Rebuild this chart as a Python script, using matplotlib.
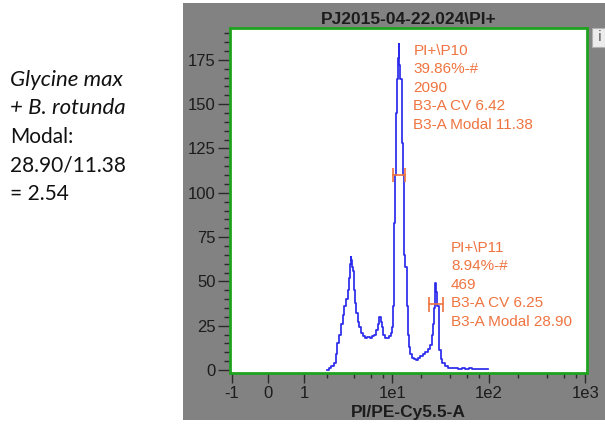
import numpy as np
import matplotlib.pyplot as plt
from matplotlib.patches import Rectangle

# histogram (channel value, event count)
channel = [2.0, 2.14, 2.3, 2.45, 2.55, 2.65, 2.78, 2.91, 3.03, 3.16, 3.30, 3.44, 3.55,
	3.63, 3.68, 3.75, 3.82, 3.90, 3.99, 4.12, 4.24, 4.42, 4.61, 4.80, 4.99, 5.3,
	5.6, 5.95, 6.33, 6.6, 6.87, 7.15, 7.45, 7.7, 7.96, 8.2, 8.41, 8.9, 9.46, 9.8,
	10.09, 10.23, 10.40, 10.53, 10.66, 10.8, 10.91, 11.1, 11.26, 11.5, 11.72, 12.0,
	12.3, 12.5, 12.81, 13.0, 13.21, 13.53, 13.86, 14.29, 14.64, 14.99, 15.6, 16.49,
	17.2, 17.89, 18.9, 20.15, 21.4, 22.7, 24.1, 25.58, 26.1, 26.58, 27.2, 27.8,
	28.34, 28.9, 29.94, 30.5, 31.18, 32.4, 33.74, 36.5, 39.7, 45, 50.4, 55, 60,
	64, 70, 75, 81, 88, 98]
counts = [0, 1, 2, 4, 9, 15, 20, 26, 31, 36, 40, 45, 52,
	60, 64, 62, 58, 56, 45, 38, 32, 27, 24, 21, 19, 18,
	18.6, 18, 19, 20, 22.6, 26, 30, 27, 24, 20, 18, 18, 19, 21,
	24, 36, 60, 83, 83, 110, 128, 145, 164, 176, 184, 172,
	164, 164, 128, 110, 86, 65, 58, 36, 20, 13, 9, 6.8,
	6, 5.6, 7, 7.9, 9, 10.3, 12, 14, 20, 26, 35, 44,
	49, 44, 36, 22, 11, 6, 4, 2, 1.1, 1, 0.6, 1, 0.5,
	1, 0.4, 0.8, 0.5, 0.6, 0.3]

gate_names = ["PI+\\P10", "PI+\\P11"]
gate_pct = ["39.86%-#", "8.94%-#"]
gate_events = ["2090", "469"]
gate_cv = ["6.42", "6.25"]
gate_modal = ["11.38", "28.90"]
gate_lo = [10.1, 24.0]
gate_hi = [13.5, 33.4]
gate_y = [110, 37]

xticks = [-1, 0, 1, 10, 100, 1000]
xticklabels = ["-1", "0", "1", "1e1", "1e2", "1e3"]
xminor = [2, 4, 6, 8, 20, 40, 60, 80, 200, 400, 600, 800]

side_text = ["Glycine max", "+ B. rotunda", "Modal:", "28.90/11.38", "= 2.54"]
side_italic = [True, True, False, False, False]

W, H = 605.0, 433.0
orange = "#ef7440"
green = "#1fa21f"


def fx(px):
	return px / W


def fy(py):
	return 1 - py / H


def main():
	fig = plt.figure(figsize=(6.05, 4.33), dpi=100)
	fig.patch.set_facecolor("white")

	# grey panel behind the plot
	fig.patches.append(Rectangle((fx(183), fy(420)), 1 - fx(183), fy(3) - fy(420),
		transform=fig.transFigure, facecolor="#828282", edgecolor="none", zorder=-10))
	fig.patches.append(Rectangle((fx(592), fy(47)), fx(13), fy(28) - fy(47),
		transform=fig.transFigure, facecolor="#ececec", edgecolor="#b0b0b0", lw=0.8, zorder=-5))
	fig.text(fx(600), fy(37), "i", fontsize=10, color="#555555", ha="center", va="center")

	ax = fig.add_axes([fx(230), fy(373), fx(587) - fx(230), fy(28) - fy(373)])
	ax.set_zorder(5)
	ax.set_facecolor("white")
	ax.set_xscale("asinh", linear_width=1.028)
	ax.set_xlim(-1.06, 1045)
	ax.set_ylim(-1.7, 193)

	ax.plot(channel, counts, drawstyle="steps-mid", color="#2a2aec", lw=1.25, zorder=3)

	for i in range(len(gate_names)):
		ax.plot([gate_lo[i], gate_hi[i]], [gate_y[i], gate_y[i]], color=orange, lw=1.2, zorder=4)
		ax.vlines([gate_lo[i], gate_hi[i]], gate_y[i] - 4, gate_y[i] + 4, color=orange, lw=1.2, zorder=4)

	lbl = dict(color=orange, fontsize=11, family="Liberation Sans", va="top", ha="left",
		linespacing=1.42, transform=ax.transAxes)
	pos = [(0.514, 0.955), (0.619, 0.384)]
	for i in range(len(gate_names)):
		txt = "\n".join([gate_names[i], gate_pct[i], gate_events[i],
			"B3-A CV " + gate_cv[i], "B3-A Modal " + gate_modal[i]])
		ax.text(pos[i][0], pos[i][1], txt, **lbl)

	for s in ax.spines.values():
		s.set_color(green)
		s.set_linewidth(2)

	ax.set_yticks(np.arange(0, 176, 25))
	ax.set_yticks(np.arange(0, 191, 5), minor=True)
	ax.set_xticks(xticks)
	ax.set_xticklabels(xticklabels)
	ax.set_xticks(xminor, minor=True)
	ax.tick_params(axis="y", which="major", length=8.6, width=1, color="#2a2a2a", pad=1.5)
	ax.tick_params(axis="y", which="minor", length=4.3, width=1, color="#2a2a2a")
	ax.tick_params(axis="x", which="major", length=7, width=1, color="#2a2a2a", pad=2.5)
	ax.tick_params(axis="x", which="minor", length=3.6, width=1, color="#2a2a2a")
	for t in ax.get_xticklabels() + ax.get_yticklabels():
		t.set_fontfamily("Liberation Sans")
		t.set_fontsize(12)
		t.set_color("#1c1c1c")

	ax.set_title("PJ2015-04-22.024\\PI+", fontsize=12.5, fontweight="bold",
		family="Liberation Sans", color="#1c1c1c", pad=3)
	ax.set_xlabel("PI/PE-Cy5.5-A", fontsize=12.5, fontweight="bold",
		family="Liberation Sans", color="#1c1c1c")
	ax.xaxis.set_label_coords(0.5, -0.094)

	for i, line in enumerate(side_text):
		fig.text(fx(10), fy(80 + 28.5 * i), line, fontsize=16 if side_italic[i] else 15, family="Lato",
			style="italic" if side_italic[i] else "normal", ha="left", va="center", color="#111111")

	fig.savefig("out.png", dpi=100)


if __name__ == "__main__":
	main()
